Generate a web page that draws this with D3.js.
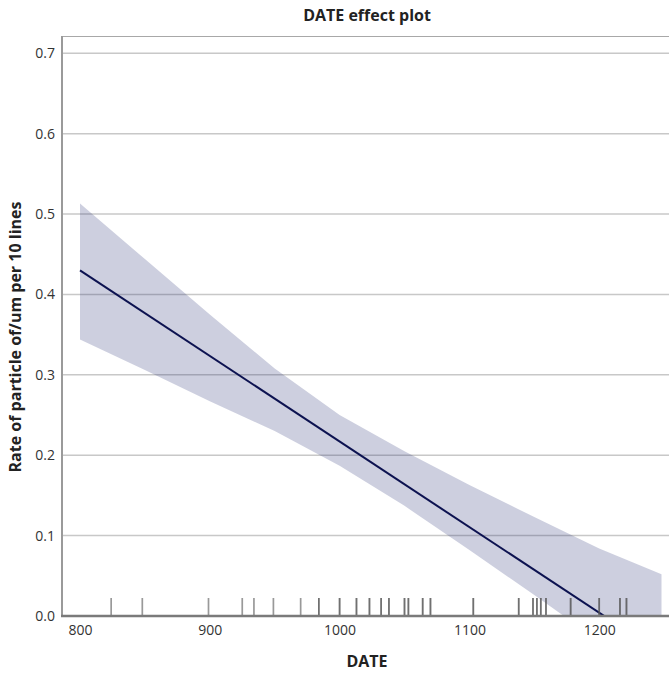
<!DOCTYPE html>
<html>
<head>
<meta charset="utf-8">
<script src="https://cdn.jsdelivr.net/npm/d3@7"></script>
<style>
  body { margin: 0; background: #fff; }
  svg { display: block; }
  text { font-family: "Open Sans", "Noto Sans", sans-serif; }
</style>
</head>
<body>
<script>
// Fitted rate of particles against DATE, with its confidence band
const fitDates = [800, 1248];
const fitRate  = [0.430, -0.047];

const bandDates = [800, 850, 900, 950, 1000, 1050, 1100, 1150, 1200, 1248];
const bandUpper = [0.513, 0.444, 0.375, 0.308, 0.250, 0.205, 0.163, 0.123, 0.084, 0.052];
const bandLower = [0.344, 0.306, 0.267, 0.230, 0.187, 0.137, 0.082, 0.026, -0.031, -0.087];

// Observed DATE values (rug); counts > 1 are tied observations
const rugDates  = [824, 848, 899, 925, 934, 949, 970, 984, 1000, 1013, 1023, 1032, 1038,
                   1050, 1053, 1064, 1070, 1103, 1138, 1149, 1152, 1155, 1159, 1178, 1200, 1216, 1221];
const rugCounts = [1, 1, 1, 1, 1, 1, 1, 2, 2, 2, 2, 2, 2,
                   2, 2, 2, 2, 2, 2, 2, 2, 2, 2, 2, 2, 2, 2];

const xTicks = [800, 900, 1000, 1100, 1200];
const yTicks = [0.0, 0.1, 0.2, 0.3, 0.4, 0.5, 0.6, 0.7];

const W = 669, H = 673;
const plot = { left: 62, right: 669, top: 36, bottom: 616 };

const x = d3.scaleLinear().domain([800, 1250]).range([80, 664.1]);
const y = d3.scaleLinear().domain([0, 0.7215]).range([plot.bottom, plot.top]);

const svg = d3.select("body").append("svg").attr("width", W).attr("height", H);

svg.append("defs").append("clipPath").attr("id", "plot-clip")
  .append("rect")
  .attr("x", plot.left).attr("y", plot.top)
  .attr("width", plot.right - plot.left).attr("height", plot.bottom - plot.top);

// Horizontal grid lines
svg.append("g").selectAll("line").data(yTicks.filter(v => v > 0)).join("line")
  .attr("x1", plot.left).attr("x2", plot.right)
  .attr("y1", d => y(d)).attr("y2", d => y(d))
  .attr("stroke", "#c8c8c8").attr("stroke-width", 1.5);

// Top frame line
svg.append("line")
  .attr("x1", plot.left).attr("x2", plot.right)
  .attr("y1", plot.top + 0.5).attr("y2", plot.top + 0.5)
  .attr("stroke", "#a8a8a8").attr("stroke-width", 1);

const inner = svg.append("g").attr("clip-path", "url(#plot-clip)");

// Confidence band
const band = bandDates.map((d, i) => ({ d, lo: bandLower[i], hi: bandUpper[i] }));
inner.append("path")
  .datum(band)
  .attr("d", d3.area().x(p => x(p.d)).y0(p => y(p.lo)).y1(p => y(p.hi)))
  .attr("fill", "rgb(26,35,110)").attr("fill-opacity", 0.22);

// Fitted line
const fit = fitDates.map((d, i) => ({ d, v: fitRate[i] }));
inner.append("path")
  .datum(fit)
  .attr("d", d3.line().x(p => x(p.d)).y(p => y(p.v)))
  .attr("fill", "none").attr("stroke", "#0c1250").attr("stroke-width", 2);

// Rug of observed dates
const rug = [];
rugDates.forEach((d, i) => { for (let k = 0; k < rugCounts[i]; k++) rug.push(d); });
svg.append("g").selectAll("line").data(rug).join("line")
  .attr("x1", d => x(d)).attr("x2", d => x(d))
  .attr("y1", plot.bottom - 18).attr("y2", plot.bottom)
  .attr("stroke", "#555").attr("stroke-opacity", 0.6).attr("stroke-width", 1.7);

// Axis lines
svg.append("line")
  .attr("x1", plot.left).attr("x2", plot.left)
  .attr("y1", plot.top).attr("y2", plot.bottom)
  .attr("stroke", "#9a9a9a").attr("stroke-width", 2);
svg.append("line")
  .attr("x1", plot.left - 1).attr("x2", plot.right)
  .attr("y1", plot.bottom).attr("y2", plot.bottom)
  .attr("stroke", "#7a7a7a").attr("stroke-width", 2.5);

// Y tick labels
const yAxis = d3.axisLeft(y).tickValues(yTicks).tickFormat(d3.format(".1f")).tickSize(0).tickPadding(7);
const gy = svg.append("g").attr("transform", `translate(${plot.left},0)`).call(yAxis);
gy.select(".domain").remove();
gy.selectAll("text").attr("font-size", 14).attr("fill", "#333")
  .style("font-family", "\"Open Sans\", sans-serif");

// X tick labels
const xAxis = d3.axisBottom(x).tickValues(xTicks).tickFormat(d3.format("d")).tickSize(0).tickPadding(9);
const gx = svg.append("g").attr("transform", `translate(0,${plot.bottom})`).call(xAxis);
gx.select(".domain").remove();
gx.selectAll("text").attr("font-size", 14).attr("fill", "#333")
  .style("font-family", "\"Open Sans\", sans-serif");

// Titles
svg.append("text")
  .attr("x", 367).attr("y", 21)
  .attr("text-anchor", "middle")
  .attr("font-size", 16).attr("font-weight", "bold").attr("fill", "#222")
  .text("DATE effect plot");

svg.append("text")
  .attr("x", 367).attr("y", 667)
  .attr("text-anchor", "middle")
  .attr("font-size", 16).attr("font-weight", "bold").attr("fill", "#222")
  .text("DATE");

svg.append("text")
  .attr("transform", "translate(21,337) rotate(-90)")
  .attr("text-anchor", "middle")
  .attr("font-size", 16).attr("font-weight", "bold").attr("fill", "#222")
  .text("Rate of particle of/um per 10 lines");
</script>
</body>
</html>
